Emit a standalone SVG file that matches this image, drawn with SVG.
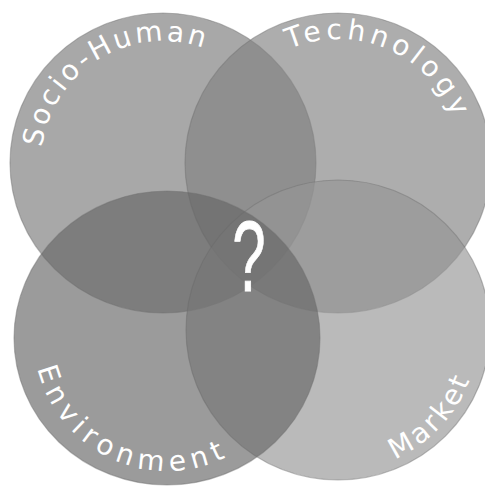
<svg xmlns="http://www.w3.org/2000/svg" width="485" height="487" viewBox="0 0 485 487">
  <style>
    .disc { fill-opacity: 0.65; stroke: #6e6e6e; stroke-opacity: 0.45; stroke-width: 1.2; }
    .label { fill: #ffffff; font-family: "DejaVu Sans", "Noto Sans", sans-serif; font-size: 28px; letter-spacing: 3px; }
    .tech { letter-spacing: 4.5px; }
    .wide { letter-spacing: 6px; }
    .mark { fill: #ffffff; stroke: #ffffff; stroke-width: 0.8; font-family: "Liberation Sans", Arial, sans-serif; font-size: 100px; }
  </style>
  <defs>
    <!-- baselines for the curved labels -->
    <path id="arc-socio" d="M 41 163 A 122 122 0 0 1 220.3 55.3"/>
    <path id="arc-tech" d="M 260 66.6 A 124 124 0 0 1 461.7 154.3"/>
    <path id="arc-env" d="M 34 338 A 133 133 0 0 0 256 436.8"/>
    <path id="arc-market" d="M 362.5 468.9 A 141 141 0 0 0 478.2 344.7"/>
  </defs>
  <rect width="485" height="487" fill="#ffffff"/>

  <g id="socio-human">
    <ellipse class="disc" cx="163" cy="163" rx="153" ry="150" fill="#797979"/>
  </g>
  <g id="technology">
    <ellipse class="disc" cx="338" cy="163" rx="153" ry="150" fill="#818181"/>
  </g>
  <g id="market">
    <ellipse class="disc" cx="338" cy="330" rx="152" ry="150" fill="#959595"/>
  </g>
  <g id="environment">
    <ellipse class="disc" cx="167" cy="338" rx="153" ry="147" fill="#656565"/>
  </g>

  <g id="labels">
    <text class="label"><textPath href="#arc-socio" startOffset="50%" text-anchor="middle">Socio-Human</textPath></text>
    <text class="label tech"><textPath href="#arc-tech" startOffset="50%" text-anchor="middle">Technology</textPath></text>
    <text class="label wide"><textPath href="#arc-env" startOffset="50%" text-anchor="middle">Environment</textPath></text>
    <text class="label"><textPath href="#arc-market" startOffset="50%" text-anchor="middle">Market</textPath></text>
  </g>

  <g id="question">
    <text class="mark" transform="translate(249 291) scale(0.6 1)" text-anchor="middle">?</text>
  </g>
</svg>
